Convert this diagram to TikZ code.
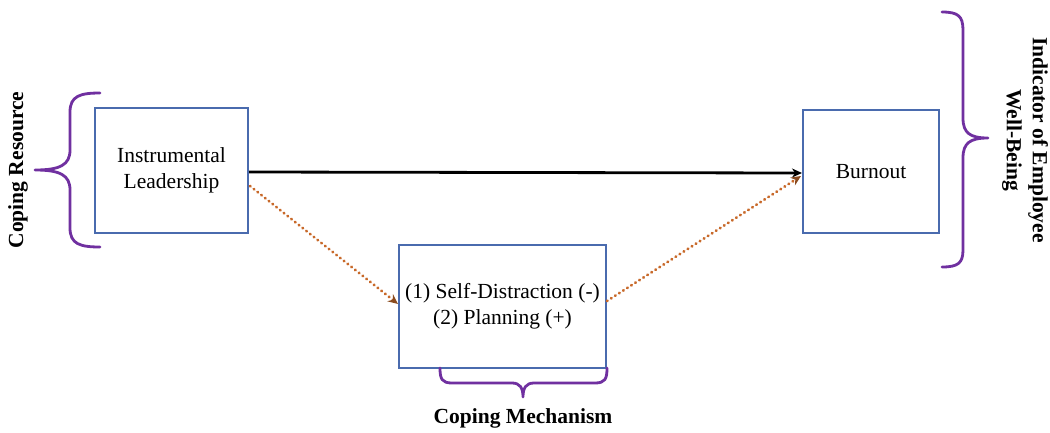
\documentclass[tikz,border=0pt]{standalone}
\usepackage{fontspec}
\setmainfont{Liberation Serif}
\usetikzlibrary{arrows.meta}
\definecolor{boxblue}{HTML}{4A6BAE}
\definecolor{bracepurple}{HTML}{7030A0}
\definecolor{pathorange}{HTML}{C8692A}
\definecolor{tipbrown}{HTML}{8A4A1E}
\tikzset{
  x=1pt, y=-1pt,
  varbox/.style={draw=boxblue, line width=2.8pt, fill=white, align=center,
    font=\fontsize{21.5}{26}\selectfont, inner sep=0pt},
  bracket/.style={draw=bracepurple, line width=2.8pt, line cap=round, line join=round},
  grouplabel/.style={font=\fontsize{21.5}{26}\selectfont\bfseries, align=center, inner sep=0pt},
  direct/.style={draw=black, line width=2.8pt, -{Stealth[length=10pt,width=9pt]}},
  indirect/.style={draw=pathorange, line width=2.8pt, line cap=round, dash pattern=on 0.6pt off 4.2pt,
    -{Stealth[length=10pt,width=9pt,color=tipbrown,fill=tipbrown]}},
}
\begin{document}
\begin{tikzpicture}
\useasboundingbox (0,0) rectangle (1050,432);
\fill[white] (0,0) rectangle (1050,432);

% variables
\node[varbox, minimum width=153pt, minimum height=125pt] (lead) at (171.5,170.5)
  {Instrumental\\Leadership};
\node[varbox, minimum width=136pt, minimum height=123pt] (burn) at (871,171.5)
  {Burnout};
\node[varbox, minimum width=207pt, minimum height=123pt] (cope) at (502.5,306.5)
  {(1) Self-Distraction (-)\\(2) Planning (+)};

% anchor points for the connectors
\coordinate (leadE) at (249,172);
\coordinate (leadSE) at (250,186);
\coordinate (burnW) at (802,173);
\coordinate (burnWl) at (801,176);
\coordinate (copeW) at (398,304);
\coordinate (copeE) at (607,301);

% connectors
\draw[direct] (leadE) -- (burnW);
\draw[indirect] (leadSE) -- (copeW);
\draw[indirect] (copeE) -- (burnWl);

% left brace
\draw[bracket] (100,93) .. controls (80,93) and (70,96) .. (70,112) -- (70,150)
  .. controls (70,165) and (60,170) .. (35,170)
  .. controls (60,170) and (70,175) .. (70,190) -- (70,228)
  .. controls (70,244) and (80,247) .. (100,247);
\node[grouplabel, rotate=90] (reslabel) at (18,170) {Coping Resource};

% right brace
\draw[bracket] (942,12) .. controls (958,12) and (963,16) .. (963,30) -- (963,118)
  .. controls (963,133) and (970,138) .. (988,138)
  .. controls (970,138) and (963,143) .. (963,158) -- (963,250)
  .. controls (963,263) and (958,267) .. (942,267);
\node[grouplabel, rotate=-90] (welllabel) at (1025,140) {Indicator of Employee\\Well-Being};

% bottom brace
\draw[bracket] (440,368) .. controls (440,379) and (442,383) .. (452,383) -- (512,383)
  .. controls (520,383) and (523,388) .. (523,397)
  .. controls (523,388) and (526,383) .. (534,383) -- (595,383)
  .. controls (605,383) and (607,379) .. (607,368);
\node[grouplabel] (mechlabel) at (523,418) {Coping Mechanism};
\end{tikzpicture}
\end{document}
